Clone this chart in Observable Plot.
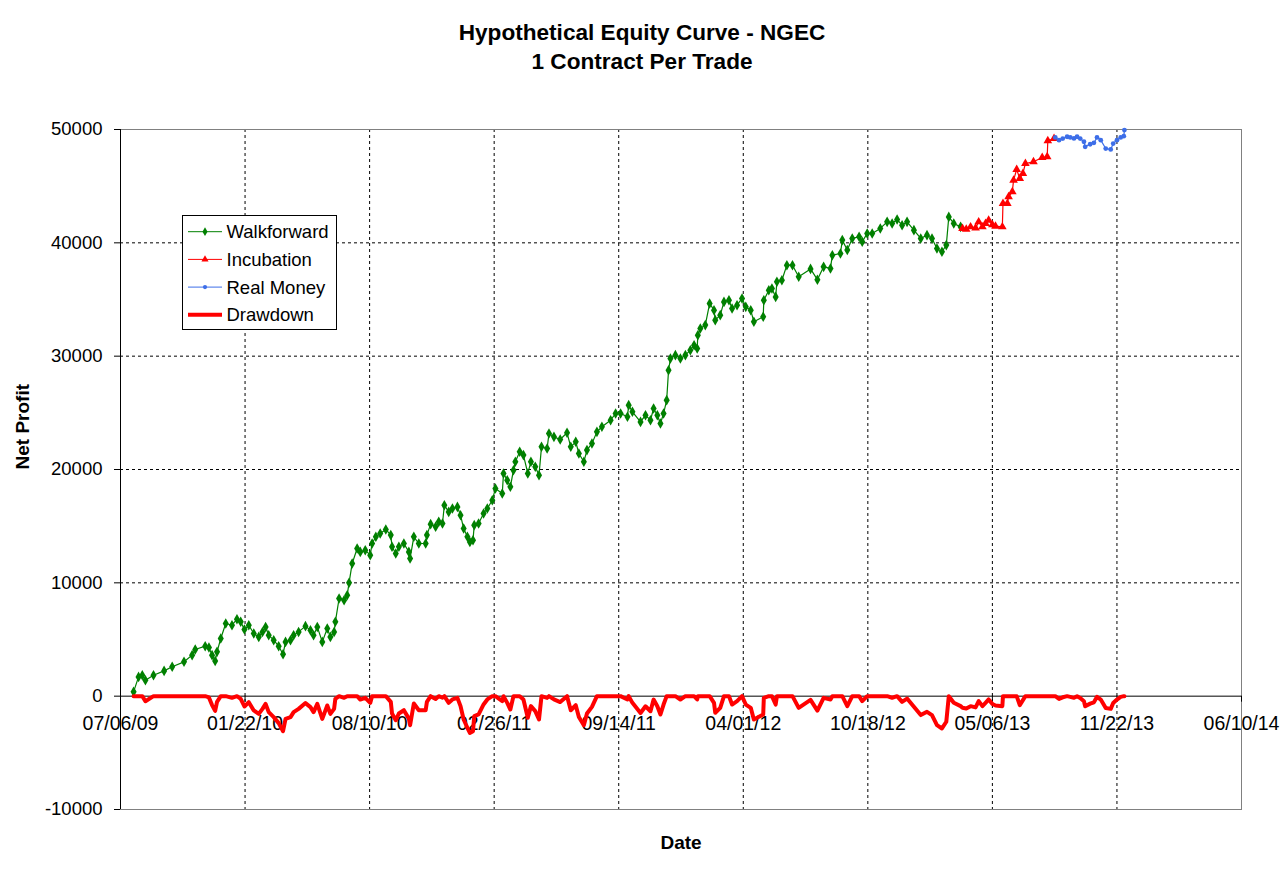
<!DOCTYPE html>
<html>
<head>
<meta charset="utf-8">
<script src="https://cdn.jsdelivr.net/npm/d3@7"></script>
<script src="https://cdn.jsdelivr.net/npm/@observablehq/plot@0.6"></script>
<style>
  html, body { margin: 0; padding: 0; background: #ffffff; }
  #wrap { position: relative; width: 1284px; height: 871px; overflow: hidden; font-family: "Liberation Sans", Arial, sans-serif; }
  #title { box-sizing: border-box; height: 100px; padding-top: 17.5px; text-align: center;
           font-weight: bold; font-size: 22.6px; line-height: 29px; color: #000; }
  #chart svg { display: block; }
  #legend { position: absolute; left: 182px; top: 215px; }
</style>
</head>
<body>
<div id="wrap">
  <div id="title">Hypothetical Equity Curve - NGEC<br>1 Contract Per Trade</div>
  <div id="chart"></div>
  <div id="legend"></div>
</div>
<script>
// ---------------- data ----------------
const xTickDates = ["2009-07-06","2010-01-22","2010-08-10","2011-02-26","2011-09-14",
                    "2012-04-01","2012-10-18","2013-05-06","2013-11-22","2014-06-10"];
const yTicks = [-10000, 0, 10000, 20000, 30000, 40000, 50000];

const seriesNames = ["Walkforward", "Incubation", "Real Money", "Drawdown"];

// Walkforward
const wfDates = [
  "2009-07-27","2009-08-04","2009-08-10","2009-08-15","2009-08-28","2009-09-14","2009-09-27","2009-10-16","2009-10-29","2009-11-03",
  "2009-11-19","2009-11-25","2009-11-30","2009-12-05","2009-12-08","2009-12-14","2009-12-22","2010-01-01","2010-01-09","2010-01-15",
  "2010-01-21","2010-01-28","2010-02-05","2010-02-13","2010-02-19","2010-02-24","2010-03-01","2010-03-09","2010-03-17","2010-03-24",
  "2010-03-28","2010-04-05","2010-04-10","2010-04-18","2010-04-29","2010-05-07","2010-05-12","2010-05-18","2010-05-26","2010-06-03",
  "2010-06-08","2010-06-14","2010-06-16","2010-06-22","2010-06-30","2010-07-05","2010-07-08","2010-07-13","2010-07-21","2010-07-26",
  "2010-08-03","2010-08-11","2010-08-14","2010-08-20","2010-08-27","2010-09-05","2010-09-13","2010-09-15","2010-09-21","2010-09-26",
  "2010-10-04","2010-10-12","2010-10-14","2010-10-20","2010-10-28","2010-11-08","2010-11-10","2010-11-16","2010-11-24","2010-11-29",
  "2010-12-05","2010-12-08","2010-12-15","2010-12-21","2010-12-29","2011-01-03","2011-01-08","2011-01-14","2011-01-18","2011-01-23",
  "2011-01-25","2011-02-01","2011-02-09","2011-02-15","2011-02-23","2011-02-28","2011-03-11","2011-03-13","2011-03-19","2011-03-24",
  "2011-03-29","2011-04-01","2011-04-08","2011-04-14","2011-04-21","2011-04-26","2011-05-03","2011-05-09","2011-05-13","2011-05-22",
  "2011-05-25","2011-06-02","2011-06-12","2011-06-23","2011-06-29","2011-07-07","2011-07-12","2011-07-20","2011-07-25","2011-08-02",
  "2011-08-10","2011-08-18","2011-09-01","2011-09-09","2011-09-17","2011-09-28","2011-09-30","2011-10-06","2011-10-19","2011-10-27",
  "2011-11-04","2011-11-09","2011-11-15","2011-11-20","2011-11-25","2011-11-30","2011-12-03","2011-12-06","2011-12-14","2011-12-22",
  "2011-12-30","2012-01-07","2012-01-13","2012-01-18","2012-01-19","2012-01-23","2012-01-31","2012-02-07","2012-02-14","2012-02-16",
  "2012-02-24","2012-03-01","2012-03-09","2012-03-14","2012-03-22","2012-03-30","2012-04-05","2012-04-13","2012-04-18","2012-05-03",
  "2012-05-04","2012-05-12","2012-05-17","2012-05-23","2012-05-25","2012-06-02","2012-06-10","2012-06-19","2012-06-29","2012-07-18",
  "2012-07-29","2012-08-08","2012-08-19","2012-08-22","2012-09-04","2012-09-07","2012-09-15","2012-09-23","2012-10-04","2012-10-09",
  "2012-10-17","2012-10-25","2012-11-07","2012-11-18","2012-11-26","2012-12-04","2012-12-12","2012-12-20","2012-12-31","2013-01-11",
  "2013-01-21","2013-01-29","2013-02-06","2013-02-14","2013-02-21","2013-02-25","2013-03-05","2013-03-16"
];
const wfProfit = [
  380,1700,1850,1400,1850,2230,2590,3030,3620,4120,
  4410,4300,3620,3110,3910,5090,6410,6260,6790,6560,
  5880,6260,5530,5230,5670,6110,5380,4940,4410,3700,
  4790,4940,5380,5670,6180,5820,5380,6110,4790,5970,
  5230,5670,6560,8620,8470,8910,10000,11710,13030,12730,
  12880,12440,13470,14060,14350,14710,14210,13180,12590,13180,
  13470,12730,12150,14060,13470,13470,14210,15180,14940,15380,
  15240,16850,16260,16560,16700,15970,14790,14060,13610,13760,
  15090,15240,16120,16560,17290,18320,17880,19650,19060,18470,
  19940,20680,21560,21270,19650,20680,20240,19500,22000,21850,
  23170,22880,22650,23240,22000,22440,21410,20680,21710,22300,
  23320,23770,24350,24940,24940,24650,25680,25090,24200,24790,
  24350,25380,24790,24060,24940,26120,28760,29790,30090,29790,
  30090,30530,30970,30680,31850,32440,32740,34650,34060,33180,
  33620,34790,34940,34200,34500,35090,34350,34060,33030,33470,
  34940,35820,35970,35230,36560,36700,38030,38030,37000,37700,
  36750,37880,37740,38910,39060,40240,39360,40390,40530,40090,
  40830,40830,41270,41850,41710,42060,41560,41850,41120,40390,
  40680,40390,39500,39210,39800,42290,41710,41410
];
const wfDrawdown = [
  0,0,0,-450,0,0,0,0,0,0,
  0,-110,-790,-1300,-500,0,0,-150,0,-230,
  -910,-530,-1260,-1560,-1120,-680,-1410,-1850,-2380,-3090,
  -2000,-1850,-1410,-1120,-610,-970,-1410,-680,-2000,-820,
  -1560,-1120,-230,0,-150,0,0,0,0,-300,
  -150,-590,0,0,0,0,-500,-1530,-2120,-1530,
  -1240,-1980,-2560,-650,-1240,-1240,-500,0,-240,0,
  -140,0,-590,-290,-150,-880,-2060,-2790,-3240,-3090,
  -1760,-1610,-730,-290,0,0,-440,0,-590,-1180,
  0,0,0,-290,-1910,-880,-1320,-2060,0,-150,
  0,-290,-520,0,-1240,-800,-1830,-2560,-1530,-940,
  0,0,0,0,0,-290,0,-590,-1480,-890,
  -1330,-300,-890,-1620,-740,0,0,0,0,-300,
  0,0,0,-290,0,0,0,0,-590,-1470,
  -1030,0,0,-740,-440,0,-740,-1030,-2060,-1620,
  -150,0,0,-740,0,0,0,0,-1030,-330,
  -1280,-150,-290,0,0,0,-880,0,0,-440,
  0,0,0,0,-140,0,-500,-210,-940,-1670,
  -1380,-1670,-2560,-2850,-2260,0,-580,-880
];

// Incubation
const incDates = [
  "2013-03-19","2013-03-25","2013-04-01","2013-04-09","2013-04-14","2013-04-20","2013-04-25","2013-04-30","2013-05-06","2013-05-11",
  "2013-05-22","2013-05-23","2013-05-30","2013-06-01","2013-06-07","2013-06-09","2013-06-14","2013-06-19","2013-06-24","2013-06-28",
  "2013-07-11","2013-07-25","2013-08-02","2013-08-03","2013-08-13"
];
const incProfit = [
  41270,41200,41410,41300,41850,41410,41700,42000,41600,41470,
  41410,43470,43470,44060,44500,45530,46470,45680,46120,47000,
  47150,47530,47590,49000,49210
];
const incDrawdown = [
  -1020,-1090,-880,-990,-440,-880,-590,-290,-690,-820,
  -880,0,0,0,0,0,0,-790,-350,0,
  0,0,0,0,0
];

// Real Money
const rmDates = [
  "2013-08-15","2013-08-21","2013-08-27","2013-09-03","2013-09-08","2013-09-14","2013-09-19","2013-09-24","2013-09-30","2013-10-02",
  "2013-10-10","2013-10-16","2013-10-21","2013-10-27","2013-11-04","2013-11-12","2013-11-16","2013-11-22","2013-11-28","2013-12-03",
  "2013-12-04"
];
const rmProfit = [
  49300,49060,49200,49360,49300,49210,49360,49200,48920,48470,
  48700,48820,49300,49060,48320,48240,48760,49060,49300,49410,
  49950
];
const rmDrawdown = [
  0,-240,-100,0,-60,-150,0,-160,-440,-890,
  -660,-540,-60,-300,-1040,-1120,-600,-300,-60,0,
  0
];

// ---------------- build ----------------
const GREEN = "#008000", RED = "#ff0000", BLUE = "#3d6ee8";
const parse = d3.utcParse("%Y-%m-%d");
const fmt = d3.utcFormat("%m/%d/%y");
const rows = (dates, profit, dd) => dates.map((d, i) => ({date: parse(d), profit: profit[i], dd: dd[i]}));
const wf = rows(wfDates, wfProfit, wfDrawdown);
const inc = rows(incDates, incProfit, incDrawdown);
const rm = rows(rmDates, rmProfit, rmDrawdown);
const dd = wf.concat(inc, rm);
const xTicks = xTickDates.map(parse);
const xGrid = xTicks.slice(1, -1);
const yGrid = yTicks.filter(v => v !== 0 && v !== yTicks[0] && v !== yTicks[yTicks.length - 1]);

const FS = 18.5, FSX = 19.5;
const chart = Plot.plot({
  width: 1284,
  height: 771,
  marginTop: 29,
  marginBottom: 62,
  marginLeft: 120,
  marginRight: 43,
  style: {fontFamily: '"Liberation Sans", Arial, sans-serif', fontSize: FS + "px", background: "#ffffff", color: "#000", overflow: "visible"},
  x: {type: "utc", domain: [xTicks[0], xTicks[xTicks.length - 1]], axis: null},
  y: {domain: [yTicks[0], yTicks[yTicks.length - 1]]},
  marks: [
    Plot.gridY(yGrid, {stroke: "#000", strokeOpacity: 1, strokeDasharray: "3,3"}),
    Plot.gridX(xGrid, {stroke: "#000", strokeOpacity: 1, strokeDasharray: "3,3"}),
    Plot.frame({stroke: "#808080"}),
    Plot.ruleX([xTicks[0]], {stroke: "#000"}),
    Plot.ruleY([0], {stroke: "#000"}),
    Plot.ruleX(xTicks, {x: d => d, y1: 0, y2: 0, insetBottom: -6, stroke: "#000"}),
    Plot.axisY(yTicks, {tickSize: 6, tickPadding: 12, fontSize: FS, tickFormat: d => String(d), label: null, stroke: "#000", fill: "#000"}),
    Plot.text(xTicks, {x: d => d, y: 0, text: d => fmt(d), dy: 28, fontSize: FSX, fill: "#000"}),
    Plot.text(["Net Profit"], {frameAnchor: "left", dx: -98, rotate: -90, fontWeight: "bold", fontSize: 19, fill: "#000"}),
    Plot.text(["Date"], {frameAnchor: "bottom", lineAnchor: "middle", dy: 33, fontWeight: "bold", fontSize: 19, fill: "#000"}),
    // Walkforward
    Plot.line(wf, {x: "date", y: "profit", stroke: GREEN, strokeWidth: 1.2}),
    Plot.dot(wf, {x: "date", y: "profit", symbol: "diamond", r: 3.2, fill: GREEN, stroke: "none"}),
    // Incubation
    Plot.line(inc, {x: "date", y: "profit", stroke: RED, strokeWidth: 1.2}),
    Plot.dot(inc, {x: "date", y: "profit", symbol: "triangle", r: 3.2, fill: RED, stroke: "none"}),
    // Real money
    Plot.line(rm, {x: "date", y: "profit", stroke: BLUE, strokeWidth: 1.2}),
    Plot.dot(rm, {x: "date", y: "profit", symbol: "circle", r: 2.4, fill: BLUE, stroke: "none"}),
    // Drawdown
    Plot.line(dd, {x: "date", y: "dd", stroke: RED, strokeWidth: 4, strokeLinejoin: "round", strokeLinecap: "round"})
  ]
});
document.getElementById("chart").appendChild(chart);

// ---------------- legend ----------------
const lg = d3.select("#legend").append("svg")
  .attr("width", 156).attr("height", 116)
  .style("font-family", '"Liberation Sans", Arial, sans-serif');
lg.append("rect").attr("x", 0.5).attr("y", 0.5).attr("width", 154).attr("height", 114)
  .attr("fill", "#fff").attr("stroke", "#000");
const legendStyles = [
  {color: GREEN, width: 1, symbol: d3.symbolDiamond, size: 22},
  {color: RED, width: 1, symbol: d3.symbolTriangle, size: 22},
  {color: BLUE, width: 1, symbol: d3.symbolCircle, size: 14},
  {color: RED, width: 4, symbol: null, size: 0}
];
seriesNames.forEach((name, i) => {
  const y = 16.7 + i * 27.7;
  const s = legendStyles[i];
  const g = lg.append("g").attr("transform", `translate(0,${y})`);
  g.append("line").attr("x1", 6).attr("x2", 40).attr("y1", 0).attr("y2", 0)
    .attr("stroke", s.color).attr("stroke-width", s.width);
  if (s.symbol) g.append("path").attr("transform", "translate(23,0)")
    .attr("d", d3.symbol(s.symbol, s.size)()).attr("fill", s.color);
  g.append("text").attr("x", 44.5).attr("y", 0).attr("dy", "0.35em")
    .attr("font-size", FS).attr("fill", "#000").text(name);
});
</script>
</body>
</html>
